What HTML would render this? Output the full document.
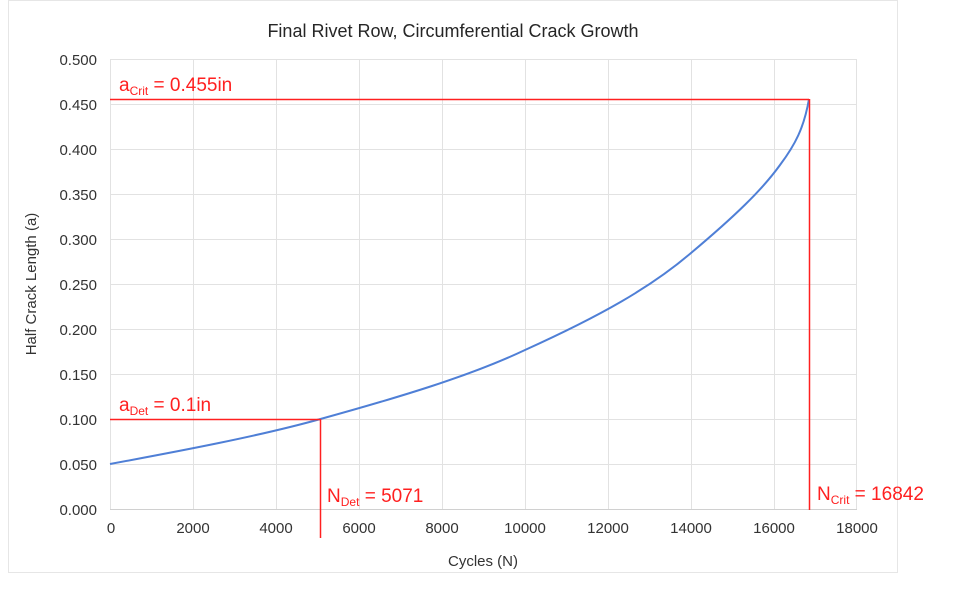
<!DOCTYPE html>
<html><head><style>
body{margin:0;background:#fff;}
svg{display:block;font-family:"Liberation Sans",Arial,sans-serif;}
</style></head><body>
<svg width="968" height="594" viewBox="0 0 968 594">
<rect x="8.5" y="0.5" width="889" height="572" fill="#fff" stroke="#e6e6e6"/>
<text x="453" y="37" text-anchor="middle" font-size="18" fill="#262626">Final Rivet Row, Circumferential Crack Growth</text>
<g stroke="#e2e2e2" stroke-width="1">
<line x1="110" y1="59.5" x2="857" y2="59.5"/><line x1="110" y1="104.5" x2="857" y2="104.5"/>
<line x1="110" y1="149.5" x2="857" y2="149.5"/><line x1="110" y1="194.5" x2="857" y2="194.5"/>
<line x1="110" y1="239.5" x2="857" y2="239.5"/><line x1="110" y1="284.5" x2="857" y2="284.5"/>
<line x1="110" y1="329.5" x2="857" y2="329.5"/><line x1="110" y1="374.5" x2="857" y2="374.5"/>
<line x1="110" y1="419.5" x2="857" y2="419.5"/><line x1="110" y1="464.5" x2="857" y2="464.5"/>
<line x1="110.5" y1="59" x2="110.5" y2="509"/><line x1="193.5" y1="59" x2="193.5" y2="509"/>
<line x1="276.5" y1="59" x2="276.5" y2="509"/><line x1="359.5" y1="59" x2="359.5" y2="509"/>
<line x1="442.5" y1="59" x2="442.5" y2="509"/><line x1="525.5" y1="59" x2="525.5" y2="509"/>
<line x1="608.5" y1="59" x2="608.5" y2="509"/><line x1="691.5" y1="59" x2="691.5" y2="509"/>
<line x1="774.5" y1="59" x2="774.5" y2="509"/><line x1="856.5" y1="59" x2="856.5" y2="509"/>
<line x1="110" y1="509.5" x2="857" y2="509.5" stroke="#d0d0d0"/>
</g>
<g font-size="15" fill="#333" text-anchor="end">
<text x="97" y="65">0.500</text><text x="97" y="110">0.450</text><text x="97" y="155">0.400</text>
<text x="97" y="200">0.350</text><text x="97" y="245">0.300</text><text x="97" y="290">0.250</text>
<text x="97" y="335">0.200</text><text x="97" y="380">0.150</text><text x="97" y="425">0.100</text>
<text x="97" y="470">0.050</text><text x="97" y="515">0.000</text>
</g>
<g font-size="15" fill="#333" text-anchor="middle">
<text x="111" y="533">0</text><text x="193" y="533">2000</text><text x="276" y="533">4000</text>
<text x="359" y="533">6000</text><text x="442" y="533">8000</text><text x="525" y="533">10000</text>
<text x="608" y="533">12000</text><text x="691" y="533">14000</text><text x="774" y="533">16000</text>
<text x="857" y="533">18000</text>
</g>
<text x="483" y="566" text-anchor="middle" font-size="15" fill="#333">Cycles (N)</text>
<text transform="translate(36,284) rotate(-90)" text-anchor="middle" font-size="15" fill="#333">Half Crack Length (a)</text>
<path fill="none" stroke="#4f7fd6" stroke-width="2" d="M110,464 C180,451 260,436 320.5,419 C400,397 470,376 525,350 C600,316 650,288 691,253 C735,216 762,190 780,165 C795,145 804,128 809,99"/>
<g stroke="#ff2020" stroke-width="1.5" fill="none">
<line x1="110" y1="99.5" x2="809" y2="99.5"/><line x1="809.5" y1="99" x2="809.5" y2="510"/>
<line x1="110" y1="419.5" x2="320" y2="419.5"/><line x1="320.5" y1="419" x2="320.5" y2="538"/>
</g>
<g fill="#ff2020" font-size="19">
<text x="119" y="91">a<tspan font-size="12" dy="4">Crit</tspan><tspan dy="-4"> = 0.455in</tspan></text>
<text x="119" y="411">a<tspan font-size="12" dy="4">Det</tspan><tspan dy="-4"> = 0.1in</tspan></text>
<text x="327" y="502">N<tspan font-size="12" dy="4">Det</tspan><tspan dy="-4"> = 5071</tspan></text>
<text x="817" y="500">N<tspan font-size="12" dy="4">Crit</tspan><tspan dy="-4"> = 16842</tspan></text>
</g>
</svg>
</body></html>
